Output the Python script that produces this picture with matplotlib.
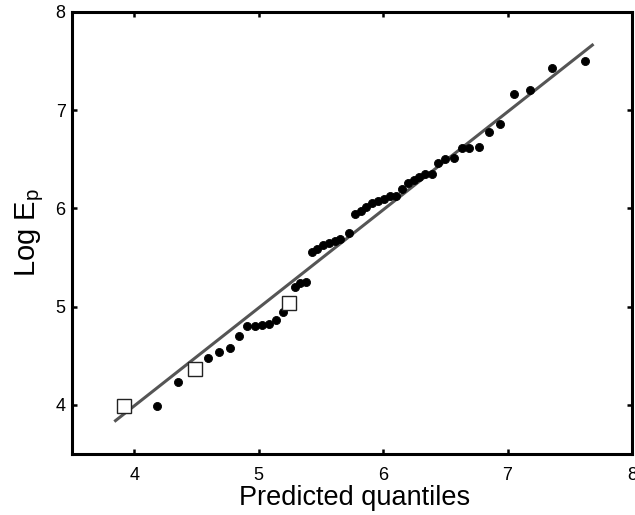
import matplotlib
matplotlib.use("Agg")
import matplotlib.pyplot as plt

plt.rcParams['font.family'] = ['Liberation Sans', 'DejaVu Sans']
plt.rcParams['mathtext.default'] = 'regular'

# Observed data (filled circles)
dot_x = [4.181, 4.353, 4.594, 4.683, 4.767, 4.839, 4.909, 4.970, 5.028, 5.087,
         5.143, 5.193, 5.291, 5.335, 5.383, 5.430, 5.472, 5.519, 5.567, 5.612,
         5.654, 5.723, 5.771, 5.821, 5.863, 5.910, 5.961, 6.010, 6.058, 6.100,
         6.148, 6.198, 6.245, 6.290, 6.338, 6.393, 6.443, 6.497, 6.566, 6.630,
         6.694, 6.770, 6.848, 6.937, 7.049, 7.180, 7.356, 7.621]
dot_y = [3.987, 4.238, 4.480, 4.540, 4.579, 4.703, 4.805, 4.805, 4.812, 4.826,
         4.869, 4.944, 5.201, 5.244, 5.254, 5.556, 5.590, 5.625, 5.645, 5.664,
         5.688, 5.745, 5.939, 5.974, 6.017, 6.059, 6.080, 6.098, 6.123, 6.130,
         6.194, 6.264, 6.289, 6.324, 6.353, 6.353, 6.459, 6.505, 6.512, 6.617,
         6.617, 6.629, 6.774, 6.862, 7.161, 7.210, 7.426, 7.503]

# Open squares
sq_x = [3.915, 4.487, 5.244]
sq_y = [3.987, 4.361, 5.039]

# Reference line
line_x = [3.840, 7.691]
line_y = [3.830, 7.673]

xticks = [4, 5, 6, 7, 8]
yticks = [4, 5, 6, 7, 8]

W, H = 635, 515
fig = plt.figure(figsize=(W / 100, H / 100), dpi=100)
L, R, T, B = 72, 632, 12, 454
ax = fig.add_axes([L / W, 1 - B / H, (R - L) / W, (B - T) / H])

ax.plot(line_x, line_y, color='#555555', lw=2.2, zorder=2, solid_capstyle='butt')
ax.plot(dot_x, dot_y, 'o', color='black', markersize=5.8, markeredgewidth=0.6,
        zorder=3)
ax.plot(sq_x, sq_y, 's', markerfacecolor='white', markeredgecolor='#222222',
        markeredgewidth=1.0, markersize=10, zorder=4)

ax.set_xlim(3.5, 8)
ax.set_ylim(3.5, 8)
ax.set_xticks(xticks)
ax.set_yticks(yticks)
ax.tick_params(direction='in', length=3.5, width=1.8, labelsize=13,
               top=True, right=True)
ax.tick_params(axis='x', pad=9)
ax.tick_params(axis='y', pad=4.5)
for s in ax.spines.values():
    s.set_linewidth(2.2)

fig.text(0.5 * (L + R) / W + 0.004, 1 - 485 / H, 'Predicted quantiles',
         fontsize=19.5, ha='center', va='top')
fig.text(46 / W, 1 - 233 / H, 'Log E$_\\mathregular{p}$', fontsize=21,
         rotation=90, ha='right', va='center')

fig.savefig('out.png', dpi=100)
